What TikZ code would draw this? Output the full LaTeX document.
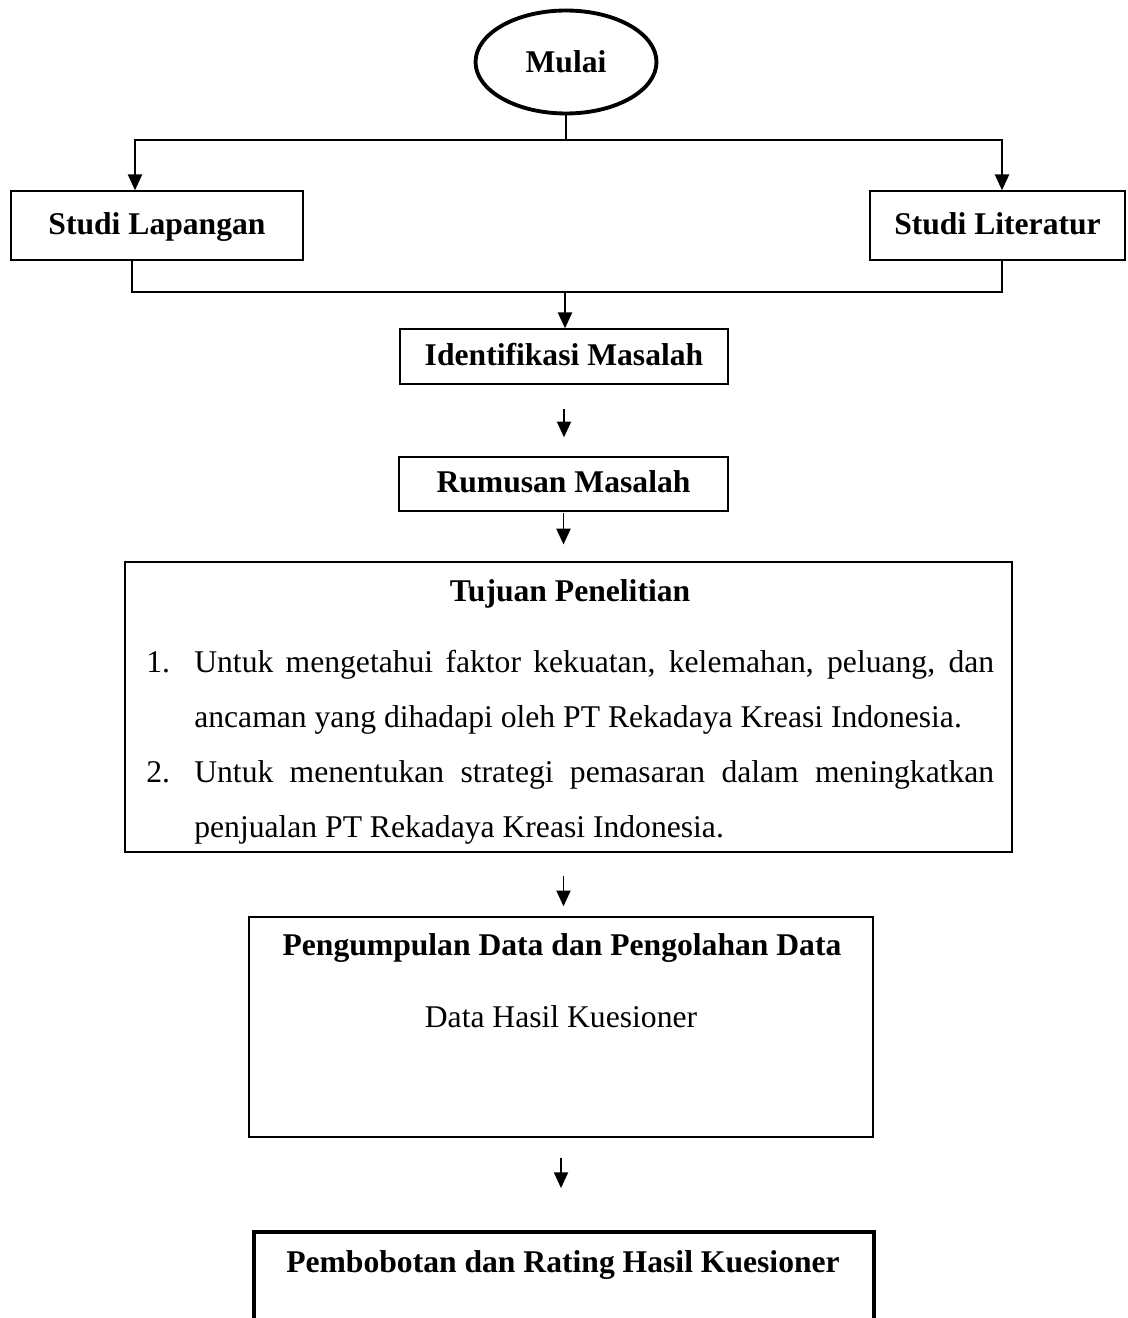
\documentclass[tikz,border=0pt]{standalone}
\usepackage{fontspec}
\setmainfont{Liberation Serif}
\usetikzlibrary{shapes.geometric,arrows.meta,positioning,calc}

\begin{document}
\begin{tikzpicture}[
    x=0.02cm, y=-0.02cm,
    >={Triangle[width=8pt,length=9pt]},
    box/.style={draw, rectangle, line width=0.8pt, inner sep=0pt, text height=12pt, text depth=2pt,
                font=\bfseries\fontsize{18}{22}\selectfont},
    link/.style={line width=1.1pt},
    txt/.style={inner sep=0pt, font=\fontsize{18}{22}\selectfont},
    head/.style={inner sep=0pt, font=\bfseries\fontsize{18}{22}\selectfont}
]
    \useasboundingbox (0,0) rectangle (1127,1318);
    \clip (0,0) rectangle (1127,1318);

    % Start
    \node[draw, ellipse, line width=2.2pt, minimum width=3.62cm, minimum height=2.06cm, inner sep=0pt,
          font=\bfseries\fontsize{18}{22}\selectfont] (mulai) at (566,62) {Mulai};

    % Studies
    \node[box, minimum width=5.84cm, minimum height=1.38cm] (lapangan) at (157,225.5) {Studi Lapangan};
    \node[box, minimum width=5.1cm, minimum height=1.38cm] (literatur) at (997.5,225.5) {Studi Literatur};

    % Problem
    \node[box, minimum width=6.56cm, minimum height=1.1cm] (ident) at (564,356.5) {Identifikasi Masalah};
    \node[box, minimum width=6.58cm, minimum height=1.08cm] (rumus) at (563.5,484) {Rumusan Masalah};

    % Objectives
    \node[box, minimum width=17.74cm, minimum height=5.8cm] (tujuan) at (568.5,707) {};
    \node[head] (tujuanjudul) at (570,594) {Tujuan Penelitian};
    \node[txt, anchor=north west, text width=16.96cm, align=justify,
          font=\fontsize{18}{31.2}\selectfont] (tujuanisi) at (146,650) {%
        \noindent\hangindent=0.96cm\hangafter=1\makebox[0.96cm][l]{1.}Untuk mengetahui faktor kekuatan, kelemahan, peluang, dan\linebreak
        ancaman yang dihadapi oleh PT Rekadaya Kreasi Indonesia.\par
        \noindent\hangindent=0.96cm\hangafter=1\makebox[0.96cm][l]{2.}Untuk menentukan strategi pemasaran dalam meningkatkan\linebreak
        penjualan PT Rekadaya Kreasi Indonesia.\par};

    % Data
    \node[box, minimum width=12.48cm, minimum height=4.4cm] (kumpul) at (561,1027) {};
    \node[head] (kumpuljudul) at (562,948) {Pengumpulan Data dan Pengolahan Data};
    \node[txt] (kumpulisi) at (561,1017) {Data Hasil Kuesioner};

    \node[box, line width=2.4pt, minimum width=12.4cm, minimum height=3.4cm] (bobot) at (564,1317) {};
    \node[head] (bobotjudul) at (563,1265) {Pembobotan dan Rating Hasil Kuesioner};

    % Connectors
    \coordinate (pisah) at ($(mulai.south)+(0,25)$);
    \coordinate (gabung) at (565,292);
    \draw[link] (mulai.south) -- (pisah);
    \draw[link,->] (pisah) -| ($(lapangan.north)+(-22,0)$);
    \draw[link,->] (pisah) -| ($(literatur.north)+(4.5,0)$);
    \draw[link] ($(lapangan.south)+(-25,0)$) |- (gabung) -| ($(literatur.south)+(4.5,0)$);
    \draw[link,->] (gabung) -- (gabung |- ident.north);
    \draw[link,->, shorten <=13.6pt, shorten >=10.8pt] (ident.south) -- (ident.south |- rumus.north);
    \draw[link,->, shorten <=1pt, shorten >=9.6pt] (rumus.south) -- (rumus.south |- tujuan.north);
    \draw[link,->, shorten <=13pt, shorten >=5.7pt] (rumus.south |- tujuan.south) -- (rumus.south |- kumpul.north);
    \draw[link,->, shorten <=11.3pt, shorten >=23.8pt] (kumpul.south) -- (kumpul.south |- bobot.north);
\end{tikzpicture}
\end{document}
